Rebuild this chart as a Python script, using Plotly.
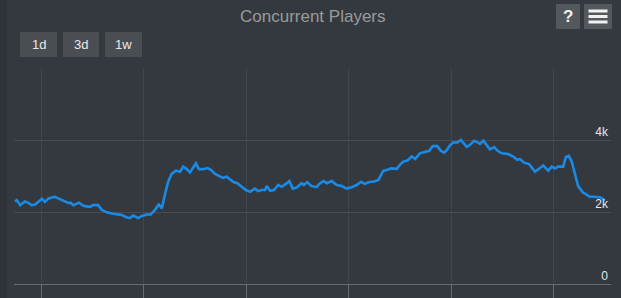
import plotly.graph_objects as go

# ---- data (hours from first day boundary, concurrent players) ----
hours = [-6.2, -5.8, -5.0, -3.9, -3.2, -2.3, -1.5, -0.8, 0.1, 0.8, 1.6, 2.4, 3.2, 3.9, 4.7,
         5.5, 6.3, 6.8, 7.5, 8.8, 9.8, 10.8, 11.5, 12.1, 13.3, 14.1, 15.3, 16.5, 17.6, 18.8,
         19.6, 20.7, 21.5, 22.7, 23.5, 24.7, 25.6, 26.6, 27.5, 28.2, 29.0, 29.7, 30.5, 31.5,
         32.5, 33.2, 34.0, 34.8, 35.4, 36.2, 36.9, 37.9, 38.9, 39.7, 40.7, 41.7, 42.5, 43.4,
         44.2, 45.0, 45.9, 46.9, 47.9, 48.9, 50.0, 50.8, 51.6, 52.4, 52.8, 53.6, 54.5, 55.5,
         56.3, 57.3, 58.1, 58.9, 59.8, 61.0, 61.5, 62.3, 63.3, 64.5, 65.3, 66.1, 66.9, 68.0,
         69.2, 70.4, 71.5, 72.7, 73.9, 74.9, 75.8, 77.0, 77.8, 79.0, 80.1, 81.1, 81.9, 83.3,
         84.0, 84.8, 85.8, 86.8, 87.6, 88.7, 89.9, 90.9, 91.7, 92.8, 93.6, 94.4, 95.0, 95.8,
         96.5, 97.5, 98.3, 98.9, 99.7, 100.4, 101.4, 102.3, 102.8, 103.6, 104.4, 105.1, 106.1,
         106.9, 107.9, 109.4, 110.6, 111.5, 112.2, 113.1, 114.3, 115.7, 116.7, 117.6, 118.8,
         119.6, 120.4, 121.1, 122.3, 122.9, 123.6, 124.3, 125.1, 125.8, 126.9, 127.6, 128.4,
         129.7, 130.9, 132.1]
players = [2290, 2330, 2190, 2290, 2260, 2190, 2210, 2290, 2370, 2280, 2370, 2400, 2420, 2380, 2330,
           2290, 2250, 2260, 2190, 2260, 2170, 2150, 2150, 2190, 2190, 2060, 1990, 1960, 1940, 1920,
           1870, 1830, 1900, 1830, 1890, 1930, 1930, 2060, 2210, 2100, 2520, 2840, 3060, 3150,
           3120, 3260, 3200, 3100, 3210, 3350, 3190, 3190, 3220, 3170, 3060, 3000, 2950, 2980,
           2910, 2830, 2800, 2700, 2610, 2560, 2650, 2580, 2610, 2610, 2720, 2590, 2610, 2750,
           2700, 2780, 2860, 2650, 2680, 2800, 2750, 2830, 2720, 2690, 2800, 2860, 2800, 2860,
           2750, 2720, 2650, 2690, 2750, 2840, 2780, 2840, 2840, 2890, 3140, 3170, 3210, 3200,
           3310, 3400, 3430, 3540, 3470, 3630, 3680, 3700, 3830, 3830, 3700, 3650, 3720, 3860,
           3930, 3930, 4000, 3910, 3810, 3860, 3980, 3930, 3890, 3980, 3860, 3740, 3800,
           3700, 3630, 3610, 3540, 3450, 3470, 3370, 3330, 3120, 3210, 3290, 3150,
           3260, 3210, 3260, 3260, 3520, 3560, 3400, 3030, 2720, 2540, 2500, 2430,
           2430, 2410, 2330]

y_ticks = [0, 2000, 4000, 6000]
y_tick_text = ["0", "2k", "4k", ""]
x_ticks = [0, 24, 48, 72, 96, 120]
range_buttons = ["1d", "3d", "1w"]
title_text = "Concurrent Players"

W, H = 621, 298
ML, MR, MT, MB = 14, 10, 68, 14
PW, PH = W - ML - MR, H - MT - MB

def px(x):
    return (x - ML) / PW

def py(y):
    return (H - MB - y) / PH

BG = "#343940"

fig = go.Figure()
fig.add_trace(go.Scatter(x=hours, y=players, mode="lines",
                         line=dict(color="#1a8ae4", width=2.6), hoverinfo="skip"))

shapes = []
annotations = []

# darker left strip
shapes.append(dict(type="rect", xref="paper", yref="paper", x0=px(0), x1=px(7),
                   y0=py(298), y1=py(0), fillcolor="#2f3339", line=dict(width=0), layer="below"))

# range buttons
btn_x = [(20, 57), (63, 99), (105, 142)]
for (x0, x1), label in zip(btn_x, range_buttons):
    shapes.append(dict(type="rect", xref="paper", yref="paper", x0=px(x0), x1=px(x1),
                       y0=py(57), y1=py(32), fillcolor="#4a4e53", line=dict(width=0)))
    annotations.append(dict(xref="paper", yref="paper", x=px((x0 + x1) / 2), y=py(44.5),
                            text=label, showarrow=False, xanchor="center", yanchor="middle",
                            font=dict(family="Liberation Sans", size=13, color="#e8e8e8")))

# help and menu icons
shapes.append(dict(type="rect", xref="paper", yref="paper", x0=px(556), x1=px(580),
                   y0=py(29), y1=py(4), fillcolor="#54585d", line=dict(width=0)))
annotations.append(dict(xref="paper", yref="paper", x=px(568), y=py(16.5), text="<b>?</b>",
                        showarrow=False, xanchor="center", yanchor="middle",
                        font=dict(family="Liberation Sans", size=17, color="#f0f0f0")))
shapes.append(dict(type="rect", xref="paper", yref="paper", x0=px(584), x1=px(612),
                   y0=py(29), y1=py(4), fillcolor="#54585d", line=dict(width=0)))
for yb in (11, 16.5, 22):
    shapes.append(dict(type="rect", xref="paper", yref="paper", x0=px(588.5), x1=px(607.5),
                       y0=py(yb + 1.5), y1=py(yb - 1.5), fillcolor="#f0f0f0", line=dict(width=0)))

# title
annotations.append(dict(xref="paper", yref="paper", x=px(313), y=py(16), text=title_text,
                        showarrow=False, xanchor="center", yanchor="middle",
                        font=dict(family="Liberation Sans", size=17, color="#9a9a9a")))

fig.update_layout(
    width=W, height=H,
    margin=dict(l=ML, r=MR, t=MT, b=MB, pad=0, autoexpand=False),
    paper_bgcolor=BG, plot_bgcolor=BG,
    showlegend=False,
    shapes=shapes, annotations=annotations,
    xaxis=dict(range=[-6.45, 133.5], tickvals=x_ticks, showticklabels=False, automargin=False,
               showgrid=True, gridcolor="#41464c", gridwidth=1,
               ticks="outside", ticklen=14, tickcolor="#686b70", tickwidth=1,
               showline=True, linecolor="#686b70", linewidth=1, zeroline=False, fixedrange=True),
    yaxis=dict(range=[0, 6000], tickvals=y_ticks, ticktext=y_tick_text, side="right",
               ticklabelposition="inside top", ticks="", showgrid=True, gridcolor="#484c52",
               gridwidth=1, zeroline=False, showline=False, automargin=False,
               tickfont=dict(family="Liberation Sans", size=12, color="#e6e6e6"), fixedrange=True),
)

fig.write_html("out.html", config={"displayModeBar": False})
